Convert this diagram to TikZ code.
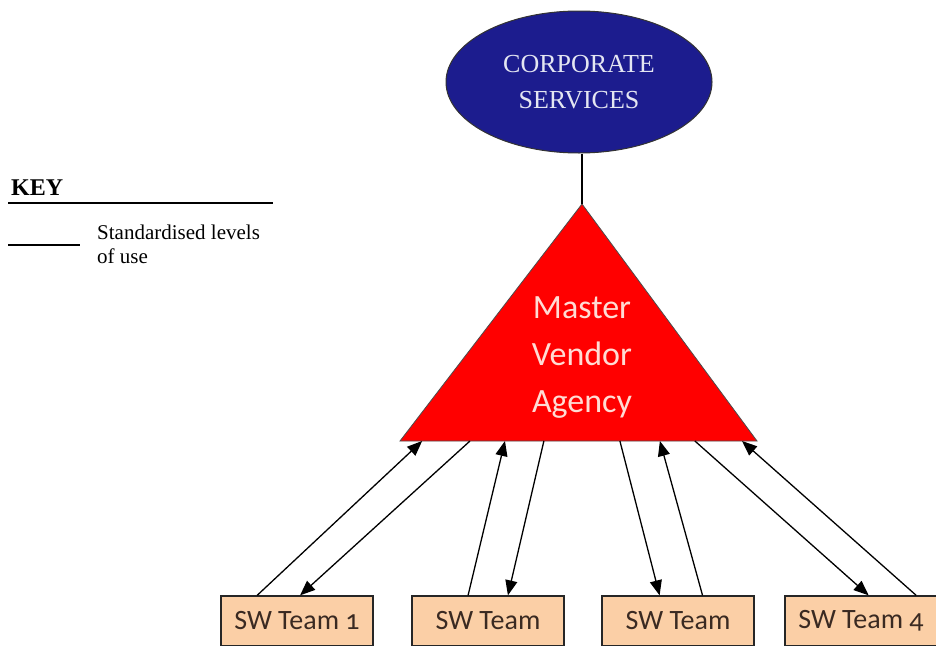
\documentclass[tikz,border=0pt]{standalone}
\usepackage{fontspec}
\setmainfont{Liberation Serif}
\newfontfamily\calfont[Numbers=OldStyle]{Carlito}
\usetikzlibrary{arrows.meta, calc, shapes.geometric, positioning}

\definecolor{corpblue}{HTML}{1C1C8E}
\definecolor{corptext}{HTML}{E4E6F2}
\definecolor{vendorred}{HTML}{FF0000}
\definecolor{vendortext}{HTML}{FFDCD4}
\definecolor{teamfill}{HTML}{FBCFA6}
\definecolor{teamtext}{HTML}{3A2A22}

\tikzset{
    team/.style={draw=black!85, line width=1.3pt, fill=teamfill, minimum width=152pt, minimum height=50pt,
        text=teamtext, font=\calfont\fontsize{28}{30}\selectfont},
    link/.style={->, line width=1.3pt}
}

\begin{document}
\begin{tikzpicture}[x=1pt, y=-1pt, >={Triangle[length=15pt,width=12pt]}]
    \useasboundingbox (0,0) rectangle (936,645);

    % Key
    \node[anchor=base west, font=\bfseries\fontsize{24}{26}\selectfont, inner sep=0pt] (key) at (11,195) {KEY};
    \draw[line width=1.3pt] ([yshift=-8pt]key.base west) ++(-3,0) coordinate (keyl) -- ++(265,0) coordinate (keyr);
    \coordinate (samplel) at (8,245);
    \coordinate (sampler) at (80,245);
    \draw[line width=1.5pt] (samplel) -- (sampler);
    \node[anchor=north west, align=left, font=\fontsize{21}{24}\selectfont, inner sep=0pt] (keytext) at (97,225)
        {Standardised levels\\of use};

    % Corporate services
    \node[ellipse, draw=black!80, line width=1pt, fill=corpblue, minimum width=266pt, minimum height=142pt,
        align=center, text=corptext, font=\fontsize{26}{36}\selectfont] (corp) at (579,82) {CORPORATE\\SERVICES};

    % Master vendor agency
    \coordinate (apex) at (582,204);
    \coordinate (bl) at (400,441);
    \coordinate (br) at (757,441);
    \filldraw[fill=vendorred, draw=black!70, line width=0.8pt] (apex) -- (br) -- (bl) -- cycle;
    \node[align=center, text=vendortext, font=\calfont\fontsize{34}{47}\selectfont] (mva) at (582,358)
        {Master\\Vendor\\Agency};
    \draw[line width=1.3pt] (corp.south -| apex) -- (apex);

    % SW teams
    \node[team] (t1) at (297,621) {SW Team 1};
    \node[team] (t2) at (488,621) {SW Team};
    \node[team] (t3) at (678,621) {SW Team};
    \node[team] (t4) at (861,621) {SW Team 4};

    % Links
    \draw[link] ($(t1.north west)!0.24!(t1.north east)$) -- ($(bl)!0.062!(br)$);
    \draw[link] ($(bl)!0.196!(br)$) -- ($(t1.north west)!0.52!(t1.north east)$);
    \draw[link] ($(t2.north west)!0.37!(t2.north east)$) -- ($(bl)!0.294!(br)$);
    \draw[link] ($(bl)!0.403!(br)$) -- ($(t2.north west)!0.63!(t2.north east)$);
    \draw[link] ($(bl)!0.616!(br)$) -- ($(t3.north west)!0.38!(t3.north east)$);
    \draw[link] ($(t3.north west)!0.66!(t3.north east)$) -- ($(bl)!0.728!(br)$);
    \draw[link] ($(bl)!0.826!(br)$) -- ($(t4.north west)!0.55!(t4.north east)$);
    \draw[link] ($(t4.north west)!0.86!(t4.north east)$) -- ($(bl)!0.958!(br)$);
\end{tikzpicture}
\end{document}
